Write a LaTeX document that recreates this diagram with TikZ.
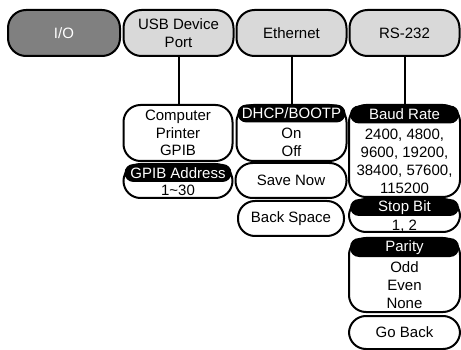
\documentclass[tikz,border=0pt]{standalone}
\usepackage{fontspec}
\setmainfont{Liberation Sans}
\newcommand{\myfs}{\fontsize{15}{17.8}\selectfont}
\definecolor{iogray}{HTML}{808080}
\definecolor{topgray}{HTML}{D9D9D9}
\tikzset{
  topbox/.style={draw, line width=2pt, rounded corners=18pt, fill=topgray,
    minimum height=46pt, minimum width=110pt, inner sep=0pt, align=center, font=\myfs},
  subbox/.style={draw, line width=2pt, rounded corners=17pt, fill=white,
    inner sep=0pt, align=center, font=\myfs},
  hdr/.style={fill=black, text=white, rounded corners=9pt, minimum height=18pt,
    minimum width=108pt, inner sep=0pt, font=\myfs},
  vals/.style={inner sep=0pt, align=center, font=\myfs},
  conn/.style={line width=2pt}
}
\begin{document}
\begin{tikzpicture}[x=1pt,y=-1pt]
\useasboundingbox (0,0) rectangle (461,350);
% top row
\node[topbox, fill=iogray, text=white, minimum width=112pt] (io) at (64,33) {I/O};
\node[topbox] (usb) at (178.5,33) {USB Device\\Port};
\node[topbox] (eth) at (291.5,33) {Ethernet};
\node[topbox] (rs) at (404.5,33) {RS-232};
% USB column
\node[subbox, minimum width=109pt, minimum height=56pt] (comp) at (178,133) {Computer\\Printer\\GPIB};
\node[subbox, minimum width=109pt, minimum height=34pt] (gpib) at (178,181) {};
\node[hdr, minimum width=107pt] (gpibh) at (178,173) {GPIB Address};
\node[vals] (gpibv) at (178,190) {1\textasciitilde 30};
% Ethernet column
\node[subbox, minimum width=110pt, minimum height=56pt] (dhcp) at (291.5,133) {};
\node[hdr] (dhcph) at (291.5,113.5) {DHCP/BOOTP};
\node[vals] (dhcpv) at (291.5,142) {On\\Off};
\node[subbox, minimum width=111pt, minimum height=35pt] (save) at (291,180.5) {Save Now};
\node[subbox, minimum width=106pt, minimum height=35pt] (back) at (291,218.5) {Back Space};
% RS-232 column
\node[subbox, minimum width=111pt, minimum height=92pt] (baud) at (404.5,151) {};
\node[hdr, minimum width=109pt] (baudh) at (404.5,114.5) {Baud Rate};
\node[vals] (baudv) at (404.5,161.5) {2400, 4800,\\9600, 19200,\\38400, 57600,\\115200};
\node[subbox, minimum width=111pt, minimum height=33pt] (stop) at (404.5,215.5) {};
\node[hdr, minimum width=109pt, minimum height=17pt] (stoph) at (404.5,207.5) {Stop Bit};
\node[vals] (stopv) at (404.5,226) {1, 2};
\node[subbox, minimum width=111pt, minimum height=74pt] (par) at (404.5,275) {};
\node[hdr, minimum width=109pt, minimum height=19pt] (parh) at (404.5,247.5) {Parity};
\node[vals] (parv) at (404.5,285) {Odd\\Even\\None};
\node[subbox, minimum width=111pt, minimum height=33pt] (goback) at (404.5,332.5) {Go Back};
% connectors
\draw[conn] (usb.south) -- (usb.south |- comp.north);
\draw[conn] (eth.south) -- (eth.south |- dhcp.north);
\draw[conn] (rs.south) -- (rs.south |- baud.north);
\end{tikzpicture}
\end{document}
